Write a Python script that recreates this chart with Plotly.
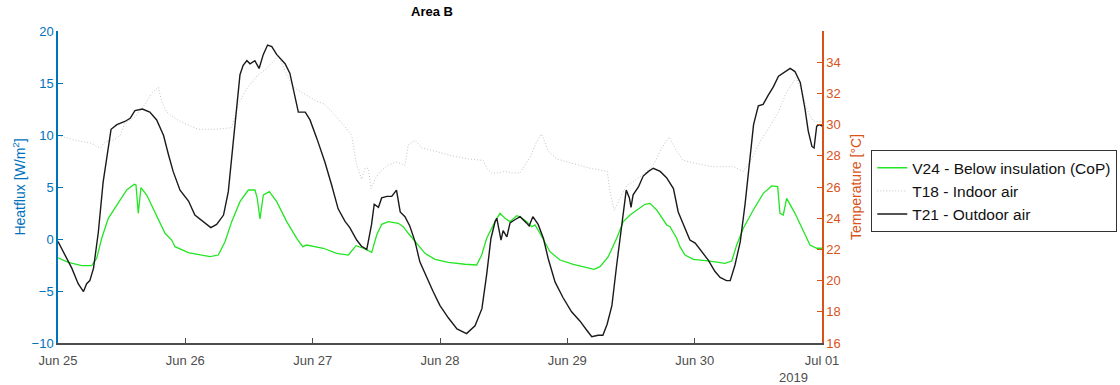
import pandas as pd
import plotly.graph_objects as go

START = pd.Timestamp("2019-06-25")

# V24 - heat flux below insulation (W/m2), hours since Jun 25 00:00
v24_hours = [0, 1.94, 4.47, 6.35, 7.29, 8.24, 9.48, 11.06, 12.95, 14.38, 14.70, 15.13, 15.64,
             16.72, 18.28, 20.17, 21.43, 22.05, 24.56, 27.08, 28.65, 30.21, 31.48, 32.74, 34.30,
             35.87, 37.13, 37.56, 38.07, 38.70, 39.83, 41.22, 43.11, 44.99, 46.12, 46.88, 50.00,
             52.53, 54.72, 56.17, 57.54, 59.13, 60.07, 61.01, 62.25, 64.14, 65.08, 66.02, 67.61,
             69.17, 71.06, 73.56, 76.71, 78.92, 79.86, 80.80, 82.37, 83.31, 84.25, 85.19, 86.45,
             87.08, 88.34, 89.28, 89.91, 90.85, 92.73, 94.62, 97.12, 99.65, 101.03, 102.16,
             103.72, 105.30, 106.55, 107.81, 109.07, 110.64, 111.58, 112.84, 114.73, 115.35,
             116.61, 117.23, 118.18, 119.76, 122.89, 125.72, 126.98, 127.92, 129.17, 131.05,
             132.94, 134.52, 135.65, 136.08, 136.70, 137.34, 138.91, 140.47, 141.74, 143.0, 144.0]
v24_flux = [-1.8, -2.24, -2.56, -2.56, -1.86, 0.07, 1.99, 3.27, 4.71, 5.26, 5.19, 2.47, 4.94,
            4.23, 2.63, 0.55, -0.1, -0.74, -1.31, -1.54, -1.70, -1.54, -0.26, 1.67, 3.59,
            4.71, 4.71, 3.91, 1.92, 4.23, 4.55, 3.59, 1.67, 0.07, -0.74, -0.58, -0.89,
            -1.38, -1.54, -0.64, -0.89, -1.28, 0.38, 1.41, 1.67, 1.51, 1.18, 0.55, -0.41,
            -1.38, -1.95, -2.24, -2.43, -2.5, -1.54, 0.07, 1.67, 2.47, 1.99, 1.67, 2.24,
            2.14, 1.67, 1.18, 1.35, 0.55, -1.22, -2.02, -2.43, -2.76, -2.91, -2.66,
            -1.70, 0.07, 1.67, 2.31, 2.79, 3.34, 3.43, 2.79, 1.35, 1.18,
            0.07, -0.74, -1.54, -1.95, -2.12, -2.34, -2.12, -0.58, 1.03, 2.79,
            4.39, 5.10, 5.03, 2.47, 2.31, 3.91, 2.47, 0.87, -0.58, -0.89, -0.89]

# T18 - indoor air temperature (degC)
t18_hours = [0, 3.2, 6.35, 7.92, 8.86, 10.42, 11.69, 12.63, 14.51, 16.40, 17.66, 18.90, 19.54,
             20.49, 22.05, 23.62, 26.44, 29.59, 32.74, 33.98, 35.57, 37.45, 39.34, 41.52, 43.11,
             44.35, 46.23, 48.76, 50.32, 51.89, 53.77, 55.36, 56.30, 57.24, 57.86, 58.49, 58.99,
             59.75, 60.69, 62.25, 63.84, 65.40, 66.02, 67.29, 68.55, 71.06, 74.20, 77.33, 80.16,
             80.80, 81.74, 82.99, 84.25, 85.51, 87.08, 88.96, 90.22, 91.17, 92.41, 93.99, 97.12,
             100.27, 103.53, 104.04, 104.85, 105.93, 107.19, 109.07, 110.64, 112.20, 113.78,
             115.21, 116.61, 117.86, 120.38, 123.51, 127.28, 129.17, 130.75, 132.32, 134.20,
             135.76, 137.34, 139.10, 140.17, 141.12, 142.36, 144.0]
t18_temp = [29.3, 29.0, 28.8, 28.5, 28.9, 29.0, 29.3, 30.1, 30.5, 31.3, 32.0, 32.4, 31.5,
            30.8, 30.4, 30.1, 29.7, 29.7, 29.8, 31.3, 32.3, 33.1, 33.6, 34.4, 33.2,
            32.4, 32.0, 31.5, 31.3, 30.7, 30.0, 29.3, 27.4, 26.5, 27.2, 27.2, 25.9,
            26.5, 27.0, 27.4, 27.6, 27.4, 28.7, 29.0, 28.5, 28.3, 28.0, 27.8, 27.7,
            27.2, 26.9, 26.9, 27.0, 26.9, 26.9, 27.9, 28.9, 29.4, 28.3, 27.8, 27.5,
            27.2, 27.0, 25.7, 24.5, 25.3, 26.1, 26.5, 26.9, 27.4, 28.5,
            29.2, 28.3, 27.7, 27.5, 27.3, 27.3, 27.0, 27.8, 28.9, 29.9,
            30.8, 32.1, 33.0, 32.2, 31.0, 30.2, 30.2]

# T21 - outdoor air temperature (degC)
t21_hours = [0, 1.3, 2.6, 3.8, 4.8, 5.4, 6.0, 6.7, 7.6, 8.5, 9.4, 10.0, 11.1, 12.6, 13.6, 14.5,
             15.9, 17.3, 18.6, 19.9, 20.8, 21.7, 23.0, 24.6, 25.8, 27.4, 28.8, 29.9, 31.2, 32.1,
             33.0, 33.7, 34.3, 34.9, 35.6, 36.2, 37.1, 37.9, 38.7, 39.5, 40.3, 41.2, 42.8, 43.7,
             44.5, 45.3, 46.6, 47.5, 48.8, 50.3, 51.6, 52.8, 54.1, 55.0, 56.3, 57.2, 58.2, 59.1,
             59.6, 60.4, 61.0, 62.0, 62.9, 63.8, 64.5, 65.4, 66.3, 67.3, 68.2, 69.5, 70.7, 72.0,
             73.6, 75.2, 77.0, 78.6, 79.9, 80.8, 81.6, 82.4, 82.7, 83.5, 83.9, 84.6, 85.2, 86.1,
             87.1, 88.3, 88.8, 89.5, 90.5, 91.5, 92.4, 93.7, 95.2, 96.8, 98.4, 99.7, 100.6,
             101.8, 102.7, 103.5, 104.4, 105.3, 106.3, 107.1, 107.7, 108.0, 108.4, 109.4, 110.3,
             111.3, 112.2, 113.5, 114.7, 116.0, 116.9, 118.2, 119.1, 120.1, 121.3, 122.6, 123.8,
             124.8, 126.0, 126.7, 127.6, 128.6, 129.5, 130.4, 131.1, 132.0, 132.9, 133.9, 134.8,
             135.8, 136.7, 138.0, 138.9, 139.9, 140.8, 141.4, 142.1, 142.5, 143.0, 143.6, 144.0]
t21_temp = [22.5, 21.6, 20.8, 19.8, 19.3, 19.8, 20.0, 20.8, 23.1, 26.3, 28.5, 29.7, 30.0, 30.2,
            30.4, 30.9, 31.0, 30.8, 30.3, 29.3, 28.1, 27.0, 25.8, 25.1, 24.2, 23.8, 23.4, 23.6,
            24.2, 25.7, 28.7, 31.5, 33.2, 33.8, 34.1, 33.9, 34.1, 33.6, 34.5, 35.1, 35.0, 34.5,
            33.9, 33.3, 32.1, 30.8, 30.8, 30.3, 29.1, 27.6, 26.1, 24.6, 23.8, 23.4, 22.6, 22.2,
            22.0, 23.6, 24.9, 24.7, 25.3, 25.4, 25.4, 25.8, 24.4, 24.1, 23.5, 22.5, 21.2, 20.2,
            19.3, 18.4, 17.6, 16.9, 16.6, 17.1, 18.2, 20.4, 22.7, 23.8, 24.0, 22.6, 23.2, 22.8,
            23.7, 23.9, 24.1, 23.7, 23.5, 24.1, 23.6, 22.7, 21.4, 19.9, 18.9, 18.0, 17.4, 16.8,
            16.4, 16.5, 16.5, 17.2, 18.4, 21.0, 23.6, 25.8, 25.3, 24.7, 25.5, 26.0, 26.7, 27.0,
            27.2, 27.0, 26.6, 25.9, 24.4, 23.4, 22.6, 22.4, 21.9, 21.3, 20.6, 20.2, 20.0, 20.0,
            21.0, 22.5, 24.9, 27.8, 30.0, 31.2, 31.3, 31.9, 32.4, 33.1, 33.3, 33.6, 33.4, 32.7,
            31.0, 29.6, 28.6, 28.5, 29.9, 30.0, 29.9]

x_tick_days = ["2019-06-25", "2019-06-26", "2019-06-27", "2019-06-28",
               "2019-06-29", "2019-06-30", "2019-07-01"]
x_tick_labels = ["Jun 25", "Jun 26", "Jun 27", "Jun 28", "Jun 29", "Jun 30", "Jul 01"]
flux_ticks = [-10, -5, 0, 5, 10, 15, 20]
temp_ticks = [16, 18, 20, 22, 24, 26, 28, 30, 32, 34]


def to_time(hours):
    return START + pd.to_timedelta(hours, unit="h")


BLUE = "#0072BD"
ORANGE = "#D95319"
AXIS_GRAY = "#4D4D4D"
FONT = "Liberation Sans, Arial, sans-serif"

fig = go.Figure()
fig.add_trace(go.Scatter(x=to_time(v24_hours), y=v24_flux, mode="lines",
                         name="V24 - Below insulation (CoP)",
                         line=dict(color="#22E622", width=1.3), yaxis="y"))
fig.add_trace(go.Scatter(x=to_time(t18_hours), y=t18_temp, mode="lines",
                         name="T18 - Indoor air",
                         line=dict(color="#C4C4C4", width=1, dash="1px,2px"), yaxis="y2"))
fig.add_trace(go.Scatter(x=to_time(t21_hours), y=t21_temp, mode="lines",
                         name="T21 - Outdoor air",
                         line=dict(color="#1A1A1A", width=1.4), yaxis="y2"))

fig.update_layout(
    width=1120, height=385,
    margin=dict(l=58, r=298, t=31, b=42, autoexpand=False),
    paper_bgcolor="white", plot_bgcolor="white",
    font=dict(family=FONT, size=13, color=AXIS_GRAY),
    showlegend=True,
    legend=dict(x=1.0645, y=0.618, xanchor="left", yanchor="top",
                bgcolor="white", bordercolor="#333333", borderwidth=1,
                font=dict(family=FONT, size=15.5, color="#111111"),
                tracegroupgap=0, itemwidth=30),
    xaxis=dict(
        range=[pd.Timestamp("2019-06-25"), pd.Timestamp("2019-07-01")],
        tickvals=pd.to_datetime(x_tick_days), ticktext=x_tick_labels,
        ticks="inside", ticklen=5, tickcolor=AXIS_GRAY, tickwidth=1,
        showline=True, linecolor=AXIS_GRAY, linewidth=1.5,
        showgrid=False, zeroline=False,
        tickfont=dict(size=13, color=AXIS_GRAY), ticklabelstandoff=5,
    ),
    yaxis=dict(
        range=[-10, 20], tickvals=flux_ticks,
        ticks="inside", ticklen=5, tickcolor=BLUE,
        showline=True, linecolor=BLUE, linewidth=1.5,
        showgrid=False, zeroline=False,
        tickfont=dict(size=13, color=BLUE),
        title=dict(text="Heatflux [W/m<sup>2</sup>]", font=dict(size=14, color=BLUE), standoff=3),
    ),
    yaxis2=dict(
        range=[16, 36], tickvals=temp_ticks, overlaying="y", side="right",
        ticks="inside", ticklen=5, tickcolor=ORANGE,
        showline=True, linecolor=ORANGE, linewidth=1.5,
        showgrid=False, zeroline=False,
        tickfont=dict(size=13, color=ORANGE),
        title=dict(text="Temperature [°C]", font=dict(size=14, color=ORANGE), standoff=11),
    ),
    annotations=[
        dict(text="<b>Area B</b>", x=0.49, y=1.061, xref="paper", yref="paper",
             xanchor="center", yanchor="middle", showarrow=False,
             font=dict(family=FONT, size=13, color="#000000")),
        dict(text="2019", x=pd.Timestamp("2019-07-01"), y=0, xref="x", yref="paper",
             xanchor="right", yanchor="top", xshift=-12, yshift=-25, showarrow=False,
             font=dict(family=FONT, size=13, color=AXIS_GRAY)),
    ],
)

fig.write_html("out.html")
